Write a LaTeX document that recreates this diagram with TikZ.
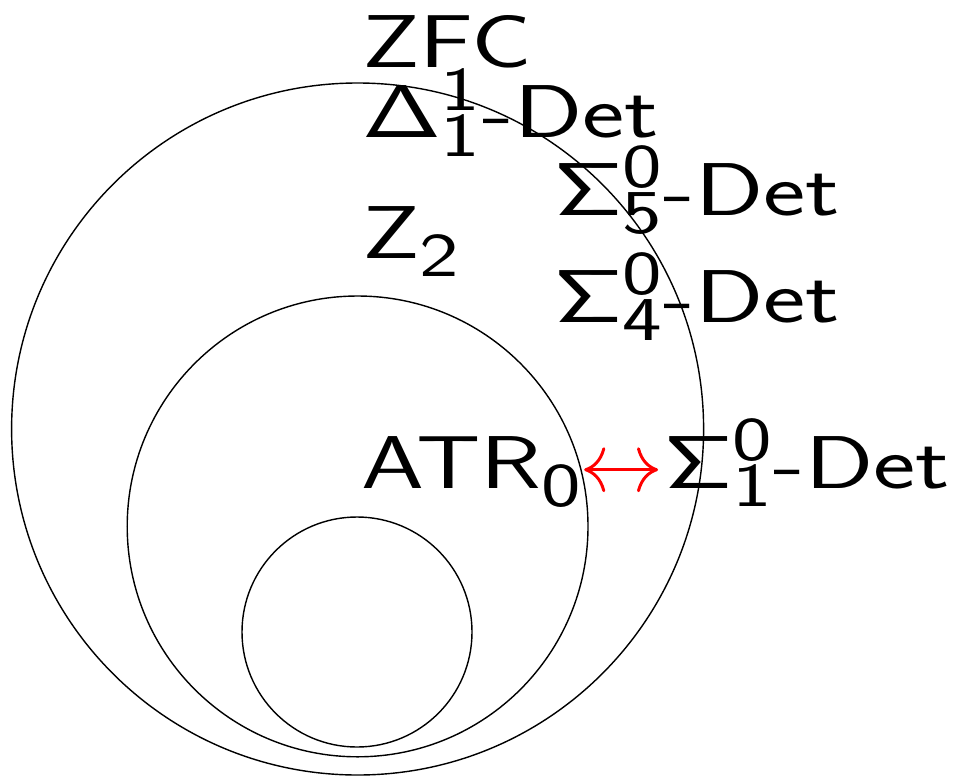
\documentclass[tikz,border=0pt]{standalone}
\usetikzlibrary{arrows.meta}
\begin{document}
\begin{tikzpicture}[line width=1pt]
    % Parametri
    \def\cx{8.94}      % Ascissa comune dei centri
    \def\rA{8.65}      % Raggio cerchio esterno
    \def\rB{5.76}      % Raggio cerchio medio
    \def\rC{2.875}     % Raggio cerchio interno
    
    \useasboundingbox (0,0) rectangle (24,-19.4);
    \tikzset{
        lab/.style={anchor=base west, inner sep=0pt, font=\Huge\sffamily, xscale=2.88, yscale=2.14},
        equiv/.style={red, line width=2.1pt, {To[length=15pt,width=32pt]}-{To[length=15pt,width=32pt]}}
    }
    
    % Cerchi
    \draw (\cx,-10.725) circle (\rA);
    \draw (\cx,-13.16) circle (\rB);
    \draw (8.925,-15.8) circle (\rC);
    
    % Etichette
    \node[lab] (zfc) at (9.0,-1.675) {ZFC};
    \node[lab] (delta) at (9.0,-3.44) {$\mathsf{\Delta^1_1}$-Det};
    \node[lab] (sigmaf) at (13.8,-5.375) {$\mathsf{\Sigma^0_5}$-Det};
    \node[lab] (ztwo) at (9.0,-6.45) {$\mathsf{Z^{}_2}$};
    \node[lab] (sigmaq) at (13.8,-8.05) {$\mathsf{\Sigma^0_4}$-Det};
    \node[lab] (atr) at (8.975,-12.2) {$\mathsf{ATR^{}_0}$};
    \node[lab] (sigmau) at (16.55,-12.2) {$\mathsf{\Sigma^0_1}$-Det};
    
    % Equivalenza
    \draw[equiv] ([xshift=-0.7pt,yshift=13pt]atr.base east) -- ([xshift=-2.8pt,yshift=13pt]sigmau.base west);
    
\end{tikzpicture}
\end{document}
